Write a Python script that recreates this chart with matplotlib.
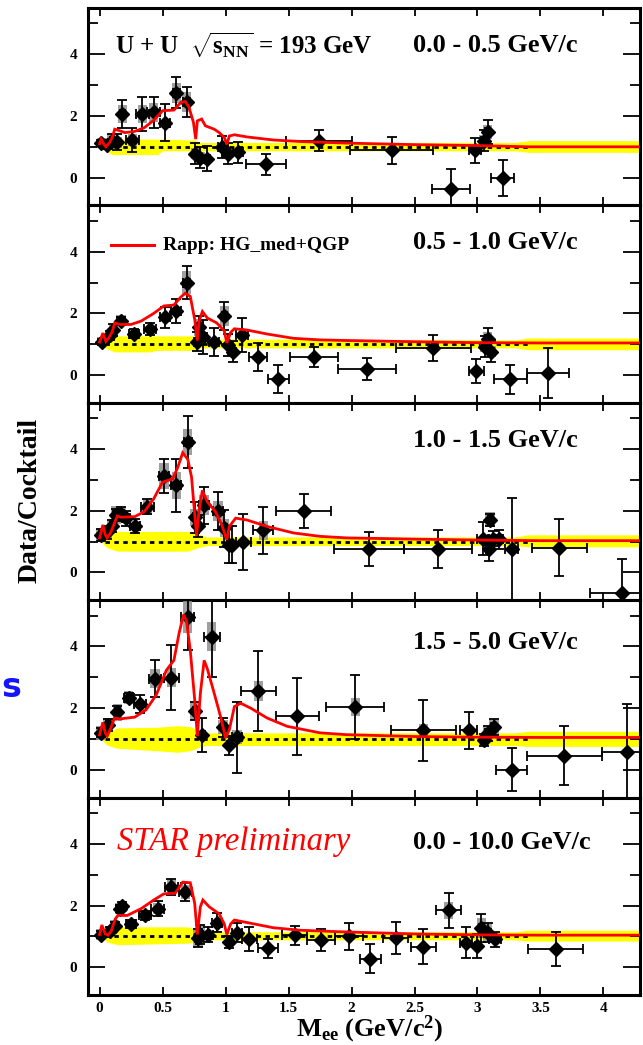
import matplotlib
matplotlib.use("Agg")
import matplotlib.pyplot as plt
from matplotlib.ticker import MultipleLocator, FixedLocator

plt.rcParams['font.family'] = ['Liberation Serif', 'DejaVu Serif']
plt.rcParams['font.weight'] = 'bold'
plt.rcParams['mathtext.fontset'] = 'custom'
plt.rcParams['mathtext.rm'] = 'Liberation Serif:bold'
plt.rcParams['mathtext.bf'] = 'Liberation Serif:bold'
plt.rcParams['mathtext.it'] = 'Liberation Serif:italic:bold'

# ---------------- data ----------------
pt_labels = ["0.0 - 0.5 GeV/c", "0.5 - 1.0 GeV/c", "1.0 - 1.5 GeV/c",
             "1.5 - 5.0 GeV/c", "0.0 - 10.0 GeV/c"]

# panel 1 : 0.0-0.5
p1_x = [0.015, 0.06, 0.10, 0.14, 0.18, 0.26, 0.34, 0.43, 0.52, 0.61, 0.69, 0.76, 0.80, 0.85,
        0.97, 1.02, 1.10, 1.32, 1.74, 2.32, 2.79, 2.98, 3.05, 3.08, 3.20]
p1_y = [1.12, 1.05, 1.20, 1.15, 2.06, 1.22, 2.06, 2.12, 1.78, 2.75, 2.45, 0.78, 0.65, 0.62,
        0.99, 0.78, 0.82, 0.43, 1.20, 0.88, -0.38, 0.88, 1.20, 1.48, 0.00]
p1_ey = [0.10, 0.12, 0.20, 0.25, 0.45, 0.40, 0.55, 0.50, 0.60, 0.50, 0.50, 0.35, 0.35, 0.40,
         0.35, 0.35, 0.35, 0.35, 0.35, 0.45, 0.65, 0.40, 0.35, 0.40, 0.58]
p1_ex = [0.01, 0.01, 0.015, 0.015, 0.02, 0.05, 0.05, 0.05, 0.04, 0.03, 0.03, 0.015, 0.015, 0.03,
         0.03, 0.015, 0.04, 0.16, 0.26, 0.33, 0.15, 0.05, 0.02, 0.02, 0.09]
p1_sys = [0.15, 0.15, 0.18, 0.18, 0.30, 0.20, 0.30, 0.30, 0, 0.32, 0.32, 0.18, 0.18, 0,
          0, 0.15, 0, 0, 0, 0, 0, 0, 0.18, 0.22, 0]

# panel 2 : 0.5-1.0
p2_x = [0.016, 0.08, 0.11, 0.17, 0.27, 0.40, 0.52, 0.61, 0.69, 0.77, 0.79, 0.82, 0.91, 0.99,
        1.02, 1.06, 1.13, 1.26, 1.42, 1.70, 2.12, 2.65, 2.99, 3.06, 3.08, 3.11, 3.26, 3.56]
p2_y = [1.08, 1.29, 1.45, 1.76, 1.34, 1.50, 1.87, 2.08, 3.00, 1.08, 1.55, 1.24, 1.08, 1.92,
        0.97, 0.76, 1.29, 0.58, -0.14, 0.58, 0.20, 0.89, 0.13, 0.92, 1.18, 0.76, -0.14, 0.07]
p2_ey = [0.10, 0.15, 0.20, 0.12, 0.15, 0.20, 0.35, 0.40, 0.55, 0.30, 0.35, 0.55, 0.45, 0.45,
         0.35, 0.35, 0.55, 0.45, 0.45, 0.33, 0.35, 0.42, 0.40, 0.35, 0.35, 0.35, 0.48, 0.80]
p2_ex = [0.01, 0.015, 0.015, 0.03, 0.04, 0.05, 0.04, 0.04, 0.03, 0.02, 0.015, 0.03, 0.04, 0.02,
         0.02, 0.02, 0.05, 0.07, 0.08, 0.19, 0.23, 0.30, 0.06, 0.02, 0.02, 0.02, 0.13, 0.17]
p2_sys = [0.15, 0.18, 0.18, 0.18, 0, 0, 0, 0, 0.38, 0, 0.28, 0, 0, 0.32,
          0, 0, 0, 0, 0, 0, 0, 0, 0, 0.18, 0.22, 0.18, 0, 0]

# panel 3 : 1.0-1.5
p3_x = [0.008, 0.06, 0.10, 0.13, 0.17, 0.21, 0.28, 0.38, 0.51, 0.61, 0.70, 0.755, 0.78, 0.83,
        0.94, 0.99, 1.03, 1.05, 1.14, 1.30, 1.62, 2.14, 2.69, 3.04, 3.09, 3.10, 3.12, 3.17,
        3.27, 3.65, 4.15]
p3_y = [1.22, 1.30, 1.50, 1.86, 1.91, 1.75, 1.51, 2.13, 3.14, 2.82, 4.23, 1.79, 1.51, 2.18,
        2.00, 1.44, 0.90, 0.90, 0.98, 1.36, 2.00, 0.76, 0.76, 1.10, 0.75, 1.71, 1.10, 1.07,
        0.76, 0.80, -0.68]
p3_ey = [0.20, 0.20, 0.20, 0.20, 0.20, 0.25, 0.22, 0.25, 0.55, 0.85, 0.85, 0.50, 0.35, 0.60,
         0.62, 0.60, 0.60, 0.60, 0.90, 0.75, 0.55, 0.56, 0.62, 0.55, 0.38, 0.20, 0.25, 0.30,
         1.65, 0.92, 1.13]
p3_ex = [0.01, 0.015, 0.015, 0.02, 0.02, 0.03, 0.04, 0.05, 0.04, 0.04, 0.03, 0.015, 0.015, 0.04,
         0.04, 0.02, 0.02, 0.02, 0.06, 0.08, 0.22, 0.28, 0.27, 0.04, 0.02, 0.02, 0.03, 0.03,
         0.05, 0.22, 0.26]
p3_sys = [0.22, 0.18, 0.18, 0.28, 0.22, 0, 0, 0.22, 0.42, 0.45, 0.42, 0.28, 0, 0.32,
          0.32, 0.28, 0, 0, 0, 0.32, 0, 0, 0, 0, 0, 0.25, 0, 0,
          0, 0, 0]

# panel 4 : 1.5-5.0
p4_x = [0.008, 0.066, 0.14, 0.23, 0.32, 0.44, 0.57, 0.70, 0.755, 0.81, 0.89, 0.98, 1.03, 1.09,
        1.26, 1.57, 2.03, 2.57, 2.93, 3.05, 3.08, 3.13, 3.27, 3.69, 4.19]
p4_y = [1.20, 1.46, 1.86, 2.34, 2.13, 2.96, 2.99, 4.97, 1.91, 1.14, 4.32, 1.38, 0.79, 1.06,
        2.56, 1.73, 2.04, 1.28, 1.28, 0.97, 1.18, 1.39, 0.00, 0.46, 0.57]
p4_ey = [0.15, 0.20, 0.20, 0.15, 0.30, 0.60, 1.05, 1.10, 0.30, 0.55, 1.30, 0.30, 0.30, 1.15,
         1.30, 1.25, 1.05, 1.00, 0.60, 0.20, 0.25, 0.25, 0.70, 0.95, 1.55]
p4_ex = [0.01, 0.015, 0.02, 0.04, 0.05, 0.05, 0.06, 0.05, 0.015, 0.03, 0.065, 0.02, 0.02, 0.04,
         0.14, 0.17, 0.23, 0.26, 0.07, 0.02, 0.02, 0.02, 0.12, 0.30, 0.20]
p4_sys = [0.22, 0.22, 0.28, 0.22, 0, 0.32, 0.32, 0.52, 0.28, 0, 0.48, 0.22, 0, 0.22,
          0.32, 0, 0.28, 0.22, 0, 0.18, 0.22, 0.22, 0, 0, 0]

# panel 5 : 0.0-10.0
p5_x = [0.008, 0.08, 0.12, 0.16, 0.18, 0.25, 0.36, 0.46, 0.57, 0.68, 0.78, 0.80, 0.86, 0.93,
        1.03, 1.09, 1.19, 1.34, 1.55, 1.76, 1.98, 2.15, 2.35, 2.57, 2.77, 2.91, 3.00, 3.03,
        3.08, 3.14, 3.62]
p5_y = [1.06, 1.17, 1.35, 1.90, 1.98, 1.40, 1.68, 1.90, 2.60, 2.44, 0.95, 1.06, 1.06, 1.45,
        0.82, 1.12, 0.92, 0.61, 1.03, 0.89, 1.00, 0.28, 0.95, 0.67, 1.84, 0.80, 0.69, 1.28,
        1.12, 0.90, 0.59]
p5_ey = [0.10, 0.12, 0.12, 0.12, 0.12, 0.12, 0.15, 0.25, 0.25, 0.30, 0.30, 0.30, 0.25, 0.30,
         0.20, 0.30, 0.40, 0.30, 0.30, 0.35, 0.45, 0.48, 0.52, 0.58, 0.58, 0.50, 0.40, 0.45,
         0.30, 0.25, 0.55]
p5_ex = [0.01, 0.015, 0.015, 0.02, 0.02, 0.04, 0.05, 0.05, 0.05, 0.05, 0.02, 0.02, 0.04, 0.04,
         0.02, 0.04, 0.06, 0.08, 0.10, 0.11, 0.11, 0.08, 0.10, 0.10, 0.10, 0.05, 0.02, 0.02,
         0.03, 0.05, 0.22]
p5_sys = [0.18, 0.18, 0.18, 0.18, 0.18, 0.15, 0.15, 0.18, 0.22, 0.22, 0.28, 0.28, 0, 0,
          0.15, 0, 0, 0, 0, 0, 0, 0, 0, 0, 0.28, 0, 0, 0.32,
          0.28, 0, 0]

# Rapp model curves
m1_x = [0, 0.013, 0.034, 0.05, 0.08, 0.105, 0.12, 0.145, 0.2, 0.28, 0.355, 0.43, 0.5, 0.59, 0.645,
        0.68, 0.71, 0.745, 0.763, 0.776, 0.81, 0.84, 0.91, 0.95, 0.99, 1.01, 1.03, 1.07, 1.17,
        1.38, 1.6, 1.96, 2.5, 3.0, 3.4, 4.4]
m1_y = [1.1, 1.25, 1.08, 1.0, 1.14, 1.35, 1.57, 1.54, 1.46, 1.5, 1.62, 1.86, 2.17, 2.19, 2.44,
        2.47, 2.28, 1.79, 1.25, 1.84, 1.9, 1.68, 1.57, 1.46, 1.3, 1.08, 1.35, 1.39, 1.32,
        1.22, 1.17, 1.12, 1.07, 1.04, 1.0, 1.0]
m2_x = [0, 0.026, 0.05, 0.07, 0.1, 0.12, 0.16, 0.25, 0.33, 0.43, 0.51, 0.59, 0.645, 0.68, 0.72,
        0.755, 0.776, 0.79, 0.816, 0.855, 0.93, 0.99, 1.01, 1.04, 1.07, 1.17, 1.33, 1.54, 1.75,
        1.96, 2.5, 3.0, 3.5, 4.4]
m2_y = [1.07, 1.36, 1.09, 1.19, 1.4, 1.69, 1.64, 1.64, 1.75, 2.0, 2.24, 2.27, 2.53, 2.65, 2.55,
        1.8, 1.12, 1.75, 2.06, 1.85, 1.69, 1.43, 1.04, 1.38, 1.5, 1.46, 1.33, 1.19, 1.14,
        1.12, 1.08, 1.05, 1.04, 1.04]
m3_x = [0, 0.026, 0.045, 0.06, 0.087, 0.118, 0.14, 0.17, 0.28, 0.355, 0.43, 0.5, 0.58, 0.62,
        0.66, 0.70, 0.73, 0.75, 0.77, 0.79, 0.816, 0.855, 0.92, 0.97, 1.01, 1.03, 1.08, 1.17,
        1.33, 1.54, 1.75, 1.96, 2.5, 3.0, 3.5, 4.4]
m3_y = [1.12, 1.54, 1.22, 1.12, 1.28, 1.6, 1.83, 1.79, 1.81, 1.97, 2.39, 2.93, 3.03, 3.4,
        3.88, 3.67, 3.09, 2.13, 1.19, 2.02, 2.66, 2.29, 1.97, 1.54, 1.06, 1.49, 1.76, 1.7,
        1.49, 1.28, 1.17, 1.12, 1.08, 1.05, 1.03, 1.03]
m4_x = [0, 0.026, 0.045, 0.06, 0.09, 0.118, 0.16, 0.28, 0.37, 0.45, 0.53, 0.59, 0.63, 0.666,
        0.69, 0.72, 0.755, 0.776, 0.80, 0.83, 0.855, 0.91, 0.96, 1.0, 1.03, 1.07, 1.12, 1.2,
        1.33, 1.49, 1.75, 1.96, 2.5, 3.0, 3.5, 4.4]
m4_y = [1.14, 1.54, 1.2, 1.09, 1.36, 1.68, 1.65, 1.71, 1.95, 2.43, 3.23, 3.55, 4.41, 5.03,
        4.83, 3.87, 2.27, 1.09, 2.48, 3.55, 3.28, 2.48, 1.73, 1.04, 1.3, 2.05, 2.16, 2.0,
        1.68, 1.41, 1.2, 1.14, 1.08, 1.06, 1.05, 1.05]
m5_x = [0, 0.018, 0.045, 0.066, 0.092, 0.124, 0.145, 0.22, 0.33, 0.43, 0.51, 0.6, 0.66, 0.72,
        0.755, 0.776, 0.80, 0.82, 0.87, 0.95, 0.99, 1.01, 1.04, 1.07, 1.17, 1.38, 1.59, 1.91,
        2.5, 3.0, 3.5, 4.4]
m5_y = [1.06, 1.37, 1.08, 1.04, 1.17, 1.56, 1.68, 1.68, 1.9, 2.18, 2.38, 2.4, 2.76, 2.74,
        2.07, 1.06, 1.96, 2.18, 1.96, 1.73, 1.4, 1.06, 1.4, 1.53, 1.45, 1.28, 1.2, 1.15,
        1.08, 1.05, 1.04, 1.04]

# cocktail uncertainty bands
b1_x = [0.02, 0.06, 0.10, 0.46, 0.50, 0.75, 0.80, 3.3, 3.4, 4.4]
b1_hi = [1.05, 1.15, 1.25, 1.25, 1.25, 1.22, 1.14, 1.14, 1.2, 1.2]
b1_lo = [0.95, 0.85, 0.75, 0.75, 0.87, 0.87, 0.87, 0.87, 0.82, 0.82]
b2_x = [0.02, 0.06, 0.12, 0.40, 0.45, 0.75, 0.80, 3.3, 3.4, 4.4]
b2_hi = [1.05, 1.18, 1.27, 1.27, 1.27, 1.27, 1.17, 1.14, 1.2, 1.2]
b2_lo = [0.95, 0.85, 0.75, 0.75, 0.80, 0.80, 0.88, 0.88, 0.82, 0.82]
b3_x = [0.02, 0.06, 0.14, 0.70, 0.78, 0.85, 3.3, 3.4, 4.4]
b3_hi = [1.05, 1.2, 1.33, 1.33, 1.25, 1.15, 1.15, 1.22, 1.22]
b3_lo = [0.95, 0.8, 0.69, 0.69, 0.8, 0.87, 0.87, 0.83, 0.83]
b4_x = [0.02, 0.06, 0.14, 0.45, 0.62, 0.72, 0.80, 0.85, 3.3, 3.4, 4.4]
b4_hi = [1.05, 1.22, 1.36, 1.38, 1.43, 1.4, 1.25, 1.2, 1.2, 1.25, 1.25]
b4_lo = [0.95, 0.8, 0.7, 0.62, 0.57, 0.62, 0.75, 0.79, 0.79, 0.76, 0.76]
b5_x = [0.02, 0.06, 0.14, 0.70, 0.78, 0.85, 3.3, 3.4, 4.4]
b5_hi = [1.05, 1.2, 1.31, 1.31, 1.2, 1.15, 1.15, 1.2, 1.2]
b5_lo = [0.95, 0.82, 0.73, 0.78, 0.85, 0.89, 0.89, 0.85, 0.85]

panels = [
    (p1_x, p1_y, p1_ey, p1_ex, p1_sys, m1_x, m1_y, b1_x, b1_lo, b1_hi),
    (p2_x, p2_y, p2_ey, p2_ex, p2_sys, m2_x, m2_y, b2_x, b2_lo, b2_hi),
    (p3_x, p3_y, p3_ey, p3_ex, p3_sys, m3_x, m3_y, b3_x, b3_lo, b3_hi),
    (p4_x, p4_y, p4_ey, p4_ex, p4_sys, m4_x, m4_y, b4_x, b4_lo, b4_hi),
    (p5_x, p5_y, p5_ey, p5_ex, p5_sys, m5_x, m5_y, b5_x, b5_lo, b5_hi),
]

# ---------------- figure ----------------
W, H = 643, 1045
fig = plt.figure(figsize=(W / 100, H / 100), dpi=100)

left_px, right_px = 88, 640
top_px, bot_px = 8, 995
ph = (bot_px - top_px) / 5
x0px, ppu = 99.6, 126.6   # pixel of x=0 and pixels per unit (for text placement)

for i, (px, py, pey, pex, psys, mx, my, bx, blo, bhi) in enumerate(panels):
    t = top_px + i * ph
    ax = fig.add_axes([left_px / W, 1 - (t + ph) / H, (right_px - left_px) / W, ph / H])
    ax.set_xlim(-0.092, 4.29)
    ax.set_ylim(-0.9, 5.5)

    ax.fill_between(bx, blo, bhi, color='#ffff00', lw=0, zorder=1)
    ax.plot([0.04, 3.4], [1, 1], color='black', lw=2.0, ls=(0, (1.6, 1.6)), zorder=2)

    # systematic boxes
    for xx, yy, ss in zip(px, py, psys):
        if ss > 0:
            ax.bar(xx, 2 * ss, bottom=yy - ss, width=0.075, color='#8e8e8e',
                   lw=0, zorder=3, alpha=0.85)

    ax.errorbar(px, py, yerr=pey, xerr=pex, fmt='D', ms=7.5, color='black',
                mec='black', mfc='black', elinewidth=1.3, capsize=3.5, capthick=1.3,
                zorder=4)
    ax.plot(mx, my, color='#ff0000', lw=2.0, zorder=5, solid_joinstyle='miter')

    for sp in ax.spines.values():
        sp.set_linewidth(2.2)
    ax.xaxis.set_major_locator(MultipleLocator(0.5))
    ax.yaxis.set_major_locator(FixedLocator([0, 2, 4]))
    ax.yaxis.set_minor_locator(FixedLocator([1, 3, 5]))
    ax.tick_params(axis='x', which='major', direction='in', top=True, bottom=True,
                   length=6, width=1.3)
    ax.tick_params(axis='y', which='major', direction='in', left=True, right=True,
                   length=12, width=1.3, pad=8, labelsize=11)
    ax.tick_params(axis='y', which='minor', direction='in', left=True, right=True,
                   length=7, width=1.3)
    for lab in ax.get_yticklabels():
        lab.set_fontweight('bold')
    if i < 4:
        ax.tick_params(axis='x', labelbottom=False)
    else:
        ax.set_xticks([0, 0.5, 1, 1.5, 2, 2.5, 3, 3.5, 4])
        ax.set_xticklabels(['0', '0.5', '1', '1.5', '2', '2.5', '3', '3.5', '4'],
                           fontweight='bold')
        ax.tick_params(axis='x', labelsize=11, pad=5)

    yl = 0.81 if i < 3 else (0.785 if i == 3 else 0.775)
    ax.text((415 - x0px) / ppu, yl, pt_labels[i], transform=ax.get_xaxis_transform(),
            fontsize=19, fontweight='bold', ha='left', va='center')

    if i == 0:
        ax.text((115 - x0px) / ppu, 0.81, r"U + U  $\sqrt{\mathrm{s}_{\mathrm{NN}}}$ = 193 GeV",
                transform=ax.get_xaxis_transform(), fontsize=18, fontweight='bold',
                ha='left', va='center')
    if i == 1:
        ax.plot([(111 - x0px) / ppu, (154 - x0px) / ppu], [4.2, 4.2], color='#ff0000', lw=2.2)
        ax.text((163 - x0px) / ppu, 4.2, "Rapp: HG_med+QGP", fontsize=14, fontweight='bold',
                ha='left', va='center')
    if i == 4:
        ax.text((117 - x0px) / ppu, 0.775, "STAR preliminary", transform=ax.get_xaxis_transform(),
                fontsize=23.5, fontweight='normal', fontstyle='italic', color='#ff0000',
                ha='left', va='center')

fig.text(30 / W, 1 - 500 / H, "Data/Cocktail", rotation=90, fontsize=20, fontweight='bold',
         ha='center', va='center')
fig.text(370 / W, 1 - 1036 / H, r"M$_{\rm ee}$ (GeV/c$^{2}$)", fontsize=19, fontweight='bold',
         ha='center', va='baseline')
fig.text(1 / W, 1 - 697 / H, "s", fontsize=24, fontweight='bold', color='#1414ff',
         family='DejaVu Sans', ha='left', va='baseline')

fig.savefig("out.png", dpi=100)
